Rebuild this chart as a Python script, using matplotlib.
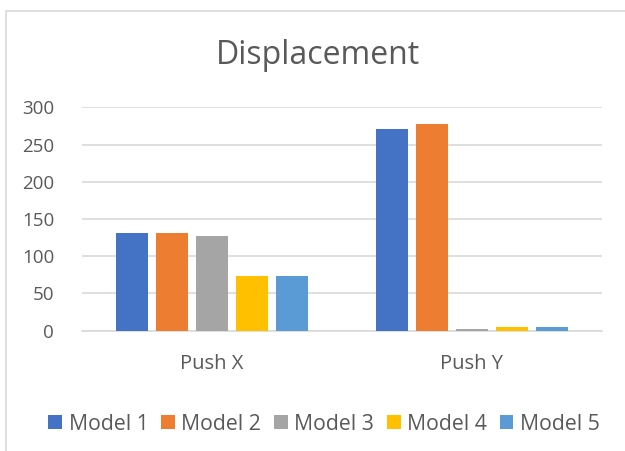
import numpy as np
import matplotlib.pyplot as plt
from matplotlib.patches import Rectangle, Patch

categories = ['Push X', 'Push Y']
models = ['Model 1', 'Model 2', 'Model 3', 'Model 4', 'Model 5']
model1 = [131, 271]
model2 = [131, 277]
model3 = [127, 2]
model4 = [73, 5]
model5 = [73, 5]
yticks = [0, 50, 100, 150, 200, 250, 300]

colors = ['#4472C4', '#ED7D31', '#A5A5A5', '#FFC000', '#5B9BD5']
txt = '#595959'

plt.rcParams['font.family'] = ['Open Sans', 'DejaVu Sans']

fig = plt.figure(figsize=(6.25, 4.51), dpi=100)
# chart frame (extends past right/bottom edge like the screenshot)
fig.patches.append(Rectangle((6 / 625, -0.1), 1.2, 1 - 11 / 451 + 0.1,
                             transform=fig.transFigure, fill=False,
                             edgecolor='#d9d9d9', linewidth=1.2))

ax = fig.add_axes([82 / 625, 1 - 330.7 / 451, 520 / 625, 223.4 / 451])

x = np.arange(len(categories))
series = [model1, model2, model3, model4, model5]
width = 0.12
step = 0.154
for i, vals in enumerate(series):
    ax.bar(x + (i - 2) * step, vals, width, color=colors[i], label=models[i], zorder=3)

ax.set_xlim(-0.5, 1.5)
ax.set_ylim(0, 300)
ax.set_yticks(yticks)
ax.set_xticks(x)
ax.set_xticklabels(categories)
ax.yaxis.grid(True, color='#d9d9d9', linewidth=1.2, zorder=0)
for s in ['top', 'right', 'left']:
    ax.spines[s].set_visible(False)
ax.spines['bottom'].set_color('#d9d9d9')
ax.spines['bottom'].set_linewidth(1.2)
ax.tick_params(axis='both', length=0, colors=txt)
ax.tick_params(axis='y', pad=20, labelsize=13.5)
ax.tick_params(axis='x', pad=17, labelsize=14.5)

fig.text(318 / 625, 1 - 63.5 / 451, 'Displacement', ha='center', va='baseline',
         fontsize=23, color=txt)

handles = [Patch(facecolor=c) for c in colors]
fig.legend(handles, models, loc='center', bbox_to_anchor=(324 / 625, 1 - 424 / 451),
           ncol=5, frameon=False, fontsize=15.3, labelcolor=txt,
           handlelength=0.65, handleheight=0.65, handletextpad=0.3, columnspacing=0.6)

fig.savefig('out.png', dpi=100, facecolor='white')
